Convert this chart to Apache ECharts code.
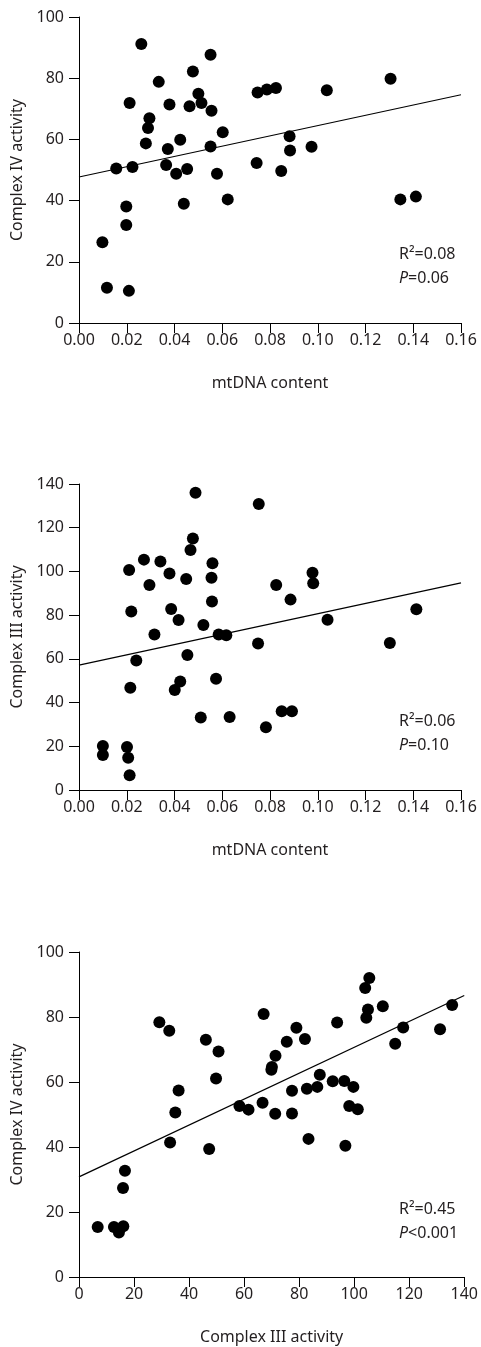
<!DOCTYPE html>
<html>
<head>
<meta charset="utf-8">
<script src="https://cdn.jsdelivr.net/npm/echarts@6/dist/echarts.min.js"></script>
<style>
  html, body { margin: 0; padding: 0; background: #fff; }
  #main { width: 481px; height: 1347px; }
</style>
</head>
<body>
<div id="main"></div>
<script>
// panel A: mtDNA content vs Complex IV activity
const mtdnaA = [0.0261, 0.0551, 0.0477, 0.0334, 0.1305, 0.0748, 0.0787, 0.0825, 0.1038, 0.0500,
  0.0513, 0.0212, 0.0379, 0.0463, 0.0555, 0.0295, 0.0289, 0.0602, 0.0280, 0.0424,
  0.0372, 0.0551, 0.0882, 0.0884, 0.0974, 0.0156, 0.0224, 0.0365, 0.0407, 0.0453,
  0.0578, 0.0744, 0.0847, 0.0623, 0.0439, 0.1346, 0.1411, 0.0198, 0.0198, 0.0098,
  0.0117, 0.0209]
const complexIVA = [91.2, 87.7, 82.2, 78.8, 79.8, 75.3, 76.3, 76.8, 76.1, 74.9,
  71.9, 71.9, 71.4, 70.8, 69.4, 66.9, 63.7, 62.3, 58.7, 59.9,
  56.9, 57.7, 61.0, 56.4, 57.6, 50.5, 51.0, 51.6, 48.8, 50.3,
  48.8, 52.3, 49.7, 40.4, 39.0, 40.4, 41.3, 38.1, 32.0, 26.4,
  11.5, 10.5]

// panel B: mtDNA content vs Complex III activity
const mtdnaB = [0.0488, 0.0753, 0.0477, 0.0467, 0.0272, 0.0341, 0.0559, 0.0210, 0.0978, 0.0379,
  0.0449, 0.0555, 0.0981, 0.0295, 0.0826, 0.0886, 0.0557, 0.0386, 0.0219, 0.1413,
  0.0417, 0.1041, 0.0521, 0.0316, 0.0585, 0.0617, 0.0750, 0.1302, 0.0454, 0.0240,
  0.0574, 0.0424, 0.0401, 0.0215, 0.0510, 0.0631, 0.0849, 0.0892, 0.0783, 0.0100,
  0.0100, 0.0201, 0.0206, 0.0212]
const complexIIIB = [136.0, 130.9, 115.1, 109.8, 105.4, 104.5, 103.7, 100.7, 99.4, 99.0,
  96.5, 97.1, 94.6, 93.8, 93.8, 87.1, 86.2, 82.8, 81.7, 82.7,
  77.8, 77.9, 75.5, 71.1, 71.1, 70.8, 67.0, 67.3, 61.8, 59.2,
  50.9, 49.6, 45.8, 46.8, 33.2, 33.4, 36.0, 36.0, 28.7, 20.1,
  16.0, 19.7, 14.8, 6.7]

// panel C: Complex III vs Complex IV activity
const complexIIIC = [105.5, 104.0, 110.4, 135.6, 105.0, 104.4, 67.1, 29.2, 32.8, 93.8,
  79.0, 117.8, 131.2, 46.1, 75.5, 82.1, 114.9, 50.7, 71.4, 70.1,
  69.9, 49.8, 87.5, 92.2, 96.4, 99.7, 86.6, 82.8, 77.4, 36.2,
  58.3, 61.6, 66.7, 35.0, 71.3, 77.4, 98.2, 101.3, 33.1, 47.3,
  83.4, 96.8, 16.7, 16.0, 6.8, 12.7, 16.1, 14.5]
const complexIVC = [92.0, 88.9, 83.3, 83.7, 82.3, 79.8, 80.9, 78.4, 75.8, 78.3,
  76.7, 76.8, 76.2, 73.0, 72.4, 73.2, 71.8, 69.4, 68.1, 64.6,
  63.8, 61.1, 62.2, 60.2, 60.3, 58.5, 58.5, 57.9, 57.3, 57.4,
  52.6, 51.5, 53.6, 50.6, 50.2, 50.3, 52.6, 51.6, 41.4, 39.4,
  42.5, 40.4, 32.7, 27.4, 15.4, 15.4, 15.6, 13.7]

// regression lines: value at x-axis min and max
const fitA = [47.7, 74.6]
const fitB = [57.1, 94.8]
const fitC = [30.8, 86.6]

const statsA = ['R²=0.08', '=0.06']
const statsB = ['R²=0.06', '=0.10']
const statsC = ['R²=0.45', '<0.001']

const font = '"Noto Sans", "Open Sans", sans-serif'
const ink = '#231f20'

const pairs = (xs, ys) => xs.map((x, i) => [x, ys[i]])

function xAxisCfg(idx, name, max, interval, fmt) {
  return {
    type: 'value', gridIndex: idx, min: 0, max, interval,
    name, nameLocation: 'middle', nameGap: 52,
    nameTextStyle: { fontFamily: font, fontSize: 16, color: ink },
    axisLine: { show: true, lineStyle: { color: '#000', width: 1 } },
    axisTick: { show: true, length: 10, lineStyle: { color: '#000' } },
    axisLabel: { fontFamily: font, fontSize: 16, color: ink, margin: 9, formatter: fmt },
    splitLine: { show: false }
  }
}
function yAxisCfg(idx, name, max, interval) {
  return {
    type: 'value', gridIndex: idx, min: 0, max, interval,
    name, nameLocation: 'middle', nameGap: 52,
    nameTextStyle: { fontFamily: font, fontSize: 16, color: ink },
    axisLine: { show: true, lineStyle: { color: '#000', width: 1 } },
    axisTick: { show: true, length: 10, lineStyle: { color: '#000' } },
    axisLabel: { fontFamily: font, fontSize: 16, color: ink, margin: 15 },
    splitLine: { show: false }
  }
}
function dots(idx, data) {
  return {
    type: 'scatter', xAxisIndex: idx, yAxisIndex: idx, data,
    symbol: 'circle', symbolSize: 12, silent: true,
    itemStyle: { color: '#000', opacity: 1 }
  }
}
function fit(idx, x1, ends) {
  return {
    type: 'line', xAxisIndex: idx, yAxisIndex: idx,
    data: [[0, ends[0]], [x1, ends[1]]],
    symbol: 'none', silent: true, z: 1,
    lineStyle: { color: '#000', width: 1.2 }
  }
}
function stats(top, s) {
  return {
    type: 'text', left: 399, top,
    style: {
      text: s[0] + '\n{i|P}' + s[1],
      fontFamily: font, fontSize: 16, fill: ink, lineHeight: 24,
      rich: { i: { fontStyle: 'italic', fontFamily: font, fontSize: 16, fill: ink } }
    }
  }
}

const chart = echarts.init(document.getElementById('main'))
chart.setOption({
  animation: false,
  grid: [
    { left: 79, top: 17, width: 382, height: 306 },
    { left: 79, top: 484, width: 382, height: 306 },
    { left: 79, top: 952, width: 386, height: 325 }
  ],
  xAxis: [
    xAxisCfg(0, 'mtDNA content', 0.16, 0.02, v => v.toFixed(2)),
    xAxisCfg(1, 'mtDNA content', 0.16, 0.02, v => v.toFixed(2)),
    xAxisCfg(2, 'Complex III activity', 140, 20)
  ],
  yAxis: [
    yAxisCfg(0, 'Complex IV activity', 100, 20),
    yAxisCfg(1, 'Complex III activity', 140, 20),
    yAxisCfg(2, 'Complex IV activity', 100, 20)
  ],
  series: [
    dots(0, pairs(mtdnaA, complexIVA)),
    fit(0, 0.16, fitA),
    dots(1, pairs(mtdnaB, complexIIIB)),
    fit(1, 0.16, fitB),
    dots(2, pairs(complexIIIC, complexIVC)),
    fit(2, 140, fitC)
  ],
  graphic: [
    stats(242, statsA),
    stats(709, statsB),
    stats(1197, statsC)
  ]
})
</script>
</body>
</html>
